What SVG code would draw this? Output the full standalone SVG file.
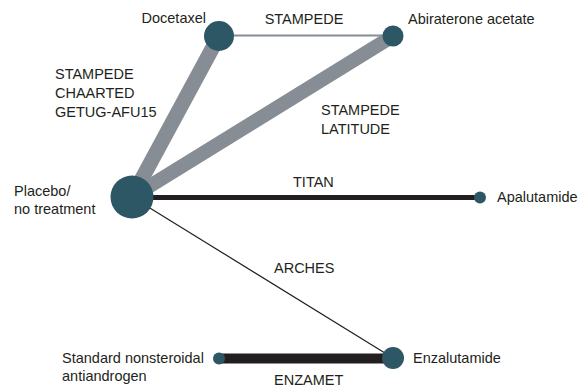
<svg xmlns="http://www.w3.org/2000/svg" width="581" height="388" viewBox="0 0 581 388">
<style>
text{font-family:"Liberation Sans",Arial,sans-serif;font-size:14.5px;fill:#231f20}
.n{fill:#2d5764}
.g{stroke:#868d94;fill:none}
.k{stroke:#231f20;fill:none}
</style>
<rect width="581" height="388" fill="#fff"/>
<g id="connectors">
<line class="g" x1="219" y1="35.5" x2="393" y2="35.5" stroke-width="2"/>
<line class="g" x1="132" y1="197" x2="219" y2="36" stroke-width="15"/>
<line class="g" x1="132" y1="197" x2="393" y2="36" stroke-width="14"/>
<line class="k" x1="132" y1="197.5" x2="480" y2="197.5" stroke-width="5"/>
<line class="k" x1="132" y1="197" x2="393" y2="358" stroke-width="1.2"/>
<line class="k" x1="219" y1="358.5" x2="393" y2="358.5" stroke-width="10"/>
<text x="304" y="24" text-anchor="middle">STAMPEDE</text>
<text x="55" y="79">STAMPEDE</text>
<text x="55" y="98">CHAARTED</text>
<text x="55" y="117">GETUG-AFU15</text>
<text x="321" y="115">STAMPEDE</text>
<text x="321" y="134">LATITUDE</text>
<text x="293" y="187">TITAN</text>
<text x="274" y="273">ARCHES</text>
<text x="274" y="385">ENZAMET</text>
</g>
<g id="docetaxel">
<circle class="n" cx="219" cy="36" r="15"/>
<text x="206" y="23" text-anchor="end">Docetaxel</text>
</g>
<g id="abiraterone">
<circle class="n" cx="393" cy="36" r="10.5"/>
<text x="408" y="24">Abiraterone acetate</text>
</g>
<g id="placebo">
<circle class="n" cx="132" cy="197" r="21.5"/>
<text x="14" y="196">Placebo/</text>
<text x="14" y="214">no treatment</text>
</g>
<g id="apalutamide">
<circle class="n" cx="480" cy="197.5" r="6"/>
<text x="497" y="202">Apalutamide</text>
</g>
<g id="enzalutamide">
<circle class="n" cx="393" cy="358" r="11"/>
<text x="413" y="363">Enzalutamide</text>
</g>
<g id="standard">
<circle class="n" cx="219" cy="358.5" r="6"/>
<text x="62" y="363">Standard nonsteroidal</text>
<text x="62" y="381">antiandrogen</text>
</g>
</svg>
